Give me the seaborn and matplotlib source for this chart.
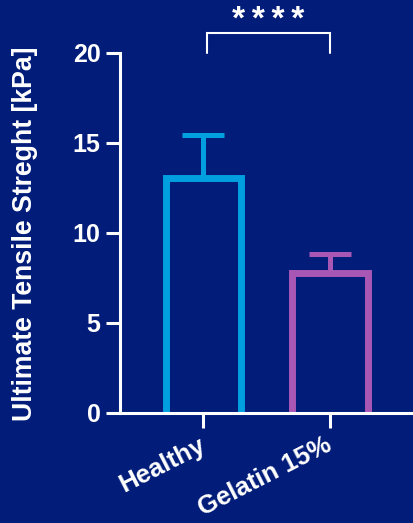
import matplotlib
matplotlib.use("Agg")
import matplotlib.pyplot as plt
import seaborn as sns
import pandas as pd

# Tensile test results (mean and SD)
groups = ["Healthy", "Gelatin 15%"]
means = [13.03, 7.78]
sds = [2.44, 1.03]
y_ticks = [0, 5, 10, 15, 20]
significance = "*\u2009*\u2009*\u2009*"

bg = "#011c79"
palette = ["#009fe0", "#a957b5"]

sns.set_theme(style="ticks")
plt.rcParams["font.family"] = ["Liberation Sans", "DejaVu Sans"]
plt.rcParams["font.weight"] = "bold"

df = pd.DataFrame({"group": groups, "uts": means})

W, H = 413, 523
fig = plt.figure(figsize=(W / 100, H / 100), dpi=100, facecolor=bg)
ax = fig.add_axes([120 / W, (H - 413) / H, (413 - 120) / W, (413 - 53) / H])
ax.set_facecolor(bg)

sns.barplot(data=df, x="group", y="uts", hue="group", palette=palette,
            width=0.6, errorbar=None, legend=False, ax=ax)

# hollow bars: coloured outline only, bottom edge pushed below the axis
for patch, col in zip(ax.patches, palette):
    patch.set_facecolor("none")
    patch.set_edgecolor(col)
    patch.set_linewidth(5)
    patch.set_joinstyle("miter")
    top = patch.get_y() + patch.get_height()
    patch.set_y(-0.5)
    patch.set_height(top + 0.5)

# upward-only SD error bars
for i, (m, s, col) in enumerate(zip(means, sds, palette)):
    ax.errorbar(i, m, yerr=[[0], [s]], fmt="none", ecolor=col,
                elinewidth=3.6, capsize=15, capthick=3.6, zorder=3)

ax.set_xlim(-0.66, 1.656)
ax.set_ylim(0, 20)
ax.set_yticks(y_ticks)
ax.set_yticklabels([str(t) for t in y_ticks])

for side in ["top", "right"]:
    ax.spines[side].set_visible(False)
for side in ["left", "bottom"]:
    ax.spines[side].set_color("white")
    ax.spines[side].set_linewidth(2.2)
    ax.spines[side].set_capstyle("projecting")

ax.tick_params(axis="both", colors="white", width=2.2, length=10,
               labelsize=18, pad=4)
ax.tick_params(axis="x", length=11, pad=11)
for lab in ax.get_yticklabels():
    lab.set_fontweight("bold")
for lab in ax.get_xticklabels():
    lab.set_fontweight("bold")
    lab.set_fontsize(18.5)
    lab.set_rotation(27)
    lab.set_ha("right")
    lab.set_va("center")
    lab.set_rotation_mode("anchor")

ax.set_xlabel("")
ax.set_ylabel("Ultimate Tensile Streght [kPa]", color="white",
              fontsize=19.2, fontweight="bold")
ax.yaxis.set_label_coords(38.5 / W, 1 - 234 / H, transform=fig.transFigure)

# significance bracket between the two groups
x0, x1 = 0.03, 1.0
yb, yt = 20, 21.1
ax.plot([x0, x0, x1, x1], [yb, yt, yt, yb], color="white", lw=1.5,
        clip_on=False, solid_joinstyle="miter")
ax.text((x0 + x1) / 2, yt + 0.25, significance, color="white", fontsize=24,
        fontweight="bold", ha="center", va="baseline", clip_on=False)

fig.savefig("out.png", dpi=100, facecolor=bg)
